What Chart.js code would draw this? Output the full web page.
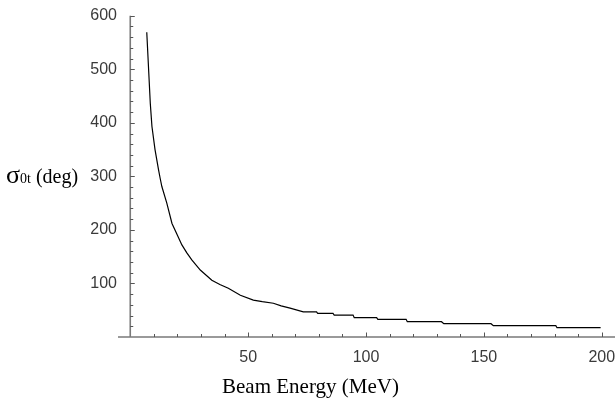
<!DOCTYPE html>
<html>
<head>
<meta charset="utf-8">
<script src="https://cdn.jsdelivr.net/npm/chart.js@4/dist/chart.umd.min.js"></script>
<style>
  html, body { margin: 0; padding: 0; background: #fff; }
  #wrap { position: relative; width: 615px; height: 400px; }
  #chart { position: absolute; left: 0; top: 0; }
  .axis-title { position: absolute; font-family: "Liberation Serif", "Times New Roman", serif; color: #000; white-space: nowrap; line-height: 1; }
  #ytitle { left: 6px; top: 162px; font-size: 20px; }
  #ytitle .sig { font-size: 26px; }
  #ytitle .sub { font-size: 14px; }
  #xtitle { left: 222px; top: 376px; font-size: 21px; }
</style>
</head>
<body>
<div id="wrap">
  <canvas id="chart" width="615" height="400"></canvas>
  <div class="axis-title" id="ytitle"><span class="sig">σ</span><span class="sub">0t</span> (deg)</div>
  <div class="axis-title" id="xtitle">Beam Energy (MeV)</div>
</div>
<script>
// Energia do feixe (MeV) e largura angular
const beamEnergy = [7, 8.5, 9.2, 10.5, 12, 12.7, 13.4, 15.5, 17.7, 20, 21.9, 24, 26.1, 29.7, 34.6, 38, 41.6,
  46.7, 52.2, 56, 60.7, 64, 67.8, 73.4, 79, 79.5, 86, 86.5, 94.5, 95, 104.5, 105, 117, 117.5, 132, 133,
  153, 154, 180.5, 181, 199.5];
const sigma0t = [569, 436, 393, 350, 312, 296, 281, 250, 212, 190, 172, 157, 144, 125, 106, 98, 91,
  78, 69, 66, 63, 58, 54, 47, 47, 44, 44, 41, 41, 36, 36, 33, 33, 28.6, 28.6, 24.8,
  24.8, 21.1, 21.1, 17.4, 17.4];

const xTickValues = [50, 100, 150, 200];
const yTickValues = [100, 200, 300, 400, 500, 600];

const AXIS_COLOR = '#7a7a7a';

// Desenha os eixos cruzando na origem e os traços voltados para dentro
const axesPlugin = {
  id: 'mathAxes',
  afterDraw(chart) {
    const { ctx, chartArea, scales: { x, y } } = chart;
    const x0 = x.getPixelForValue(0);
    ctx.save();
    ctx.strokeStyle = AXIS_COLOR;
    ctx.lineWidth = 1.6;
    ctx.beginPath();
    ctx.moveTo(chartArea.left, chartArea.bottom);
    ctx.lineTo(chartArea.right, chartArea.bottom);
    ctx.moveTo(x0, chartArea.top);
    ctx.lineTo(x0, chartArea.bottom);
    ctx.stroke();

    ctx.lineWidth = 1;
    ctx.strokeStyle = '#555';
    ctx.beginPath();
    x.ticks.forEach(t => {
      if (t.value <= 0) return;
      const px = Math.round(x.getPixelForValue(t.value)) + 0.5;
      const len = t.value % 50 === 0 ? 4.5 : 3;
      ctx.moveTo(px, chartArea.bottom);
      ctx.lineTo(px, chartArea.bottom - len);
    });
    y.ticks.forEach(t => {
      if (t.value <= 0) return;
      const py = Math.round(y.getPixelForValue(t.value)) + 0.5;
      const len = t.value % 100 === 0 ? 4.5 : 3;
      ctx.moveTo(x0, py);
      ctx.lineTo(x0 + len, py);
    });
    ctx.stroke();
    ctx.restore();
  }
};

new Chart(document.getElementById('chart'), {
  type: 'line',
  data: {
    datasets: [{
      data: beamEnergy.map((e, i) => ({ x: e, y: sigma0t[i] })),
      borderColor: '#000',
      borderWidth: 1.2,
      pointRadius: 0,
      tension: 0,
      fill: false
    }]
  },
  options: {
    responsive: false,
    animation: false,
    layout: { autoPadding: false, padding: { left: 0, right: 0, top: 15.7, bottom: 0 } },
    plugins: { legend: { display: false }, tooltip: { enabled: false } },
    scales: {
      x: {
        type: 'linear',
        min: -5.2,
        max: 205.6,
        afterFit: s => { s.height = 63; s.paddingLeft = 0; s.paddingRight = 0; },
        border: { display: false },
        grid: { display: false, drawTicks: false },
        ticks: {
          stepSize: 10,
          includeBounds: false,
          autoSkip: false,
          maxRotation: 0,
          padding: 11,
          color: '#3a3a3a',
          font: { family: '"Liberation Sans", Arial, sans-serif', size: 16 },
          callback: v => xTickValues.includes(v) ? String(v) : ''
        }
      },
      y: {
        type: 'linear',
        min: 0,
        max: 600,
        afterFit: s => { s.width = 118; s.paddingTop = 0; s.paddingBottom = 0; },
        border: { display: false },
        grid: { display: false, drawTicks: false },
        ticks: {
          stepSize: 20,
          autoSkip: false,
          padding: 1,
          color: '#3a3a3a',
          font: { family: '"Liberation Sans", Arial, sans-serif', size: 16 },
          callback: v => yTickValues.includes(v) ? String(v) : ''
        }
      }
    }
  },
  plugins: [axesPlugin]
});
</script>
</body>
</html>
